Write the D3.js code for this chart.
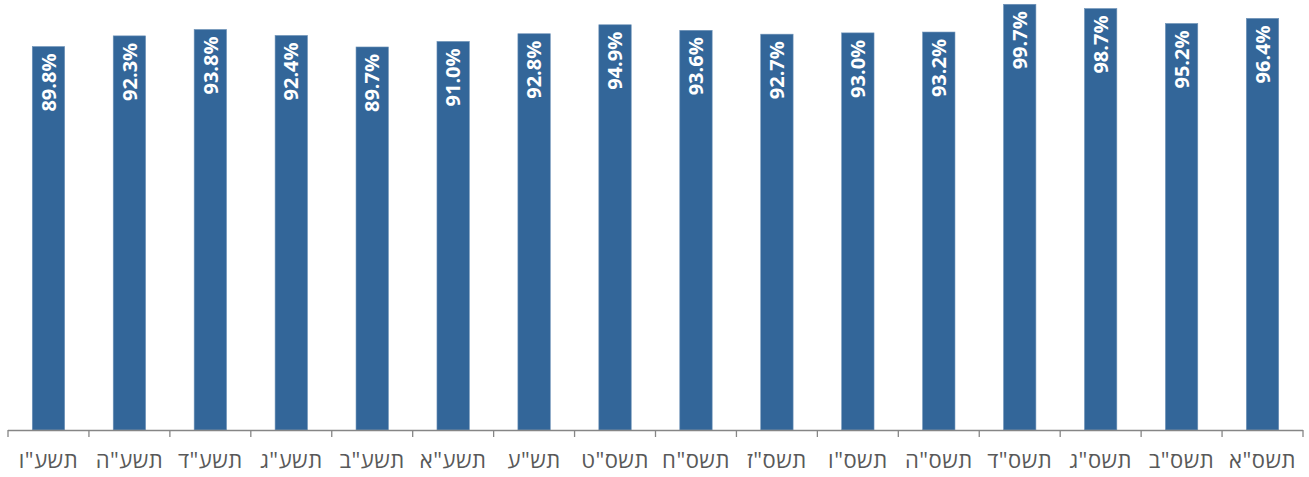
<!DOCTYPE html>
<html>
<head>
<meta charset="utf-8">
<script src="https://cdn.jsdelivr.net/npm/d3@7"></script>
<style>
	body { margin: 0; background: #fff; }
	svg { display: block; }
</style>
</head>
<body>
<div id="chart"></div>
<script>
// years shown left to right
let years = ['תשע"ו', 'תשע"ה', 'תשע"ד', 'תשע"ג', 'תשע"ב', 'תשע"א', 'תש"ע', 'תשס"ט',
	'תשס"ח', 'תשס"ז', 'תשס"ו', 'תשס"ה', 'תשס"ד', 'תשס"ג', 'תשס"ב', 'תשס"א'];
let rates = [89.8, 92.3, 93.8, 92.4, 89.7, 91.0, 92.8, 94.9,
	93.6, 92.7, 93.0, 93.2, 99.7, 98.7, 95.2, 96.4];

let width = 1309, height = 477;

let svg = d3.select("#chart").append("svg")
	.attr("width", width)
	.attr("height", height);

let x = d3.scaleBand()
	.domain(years)
	.range([8, 1303])
	.paddingInner(0.6)
	.paddingOuter(0.3);

let y = d3.scaleLinear()
	.domain([0, 100])
	.range([430, 3]);

let data = years.map((d, i) => ({year: d, value: rates[i]}));

svg.selectAll("rect.bar")
	.data(data)
	.join("rect")
	.classed("bar", true)
	.attr("x", d => x(d.year))
	.attr("y", d => y(d.value))
	.attr("width", x.bandwidth())
	.attr("height", d => y(0) - y(d.value))
	.attr("fill", "#336699")
	.attr("stroke", "#6f93b8")
	.attr("stroke-width", 0.6);

// labels inside the bar top, rotated
svg.selectAll("text.val")
	.data(data)
	.join("text")
	.classed("val", true)
	.attr("transform", d => "translate(" + (x(d.year) + x.bandwidth() / 2) + "," + (y(d.value) + 7) + ") rotate(-90)")
	.attr("text-anchor", "end")
	.attr("dy", "0.36em")
	.attr("fill", "#fff")
	.style("font-family", "'Open Sans', 'Noto Sans', sans-serif")
	.style("font-weight", "bold")
	.style("font-size", "20px")
	.text(d => d.value.toFixed(1) + "%");

// axis line + boundary ticks
let axisG = svg.append("g");
axisG.append("line")
	.attr("x1", 8).attr("x2", 1303)
	.attr("y1", 430.5).attr("y2", 430.5)
	.attr("stroke", "#868686")
	.attr("stroke-width", 1.3);

let step = x.step();
let start = x.range()[0];
let bounds = d3.range(years.length + 1).map(i => start + i * step);
axisG.selectAll("line.tick")
	.data(bounds)
	.join("line")
	.classed("tick", true)
	.attr("x1", d => d).attr("x2", d => d)
	.attr("y1", 430).attr("y2", 437)
	.attr("stroke", "#868686")
	.attr("stroke-width", 1.3);

svg.append("g")
	.selectAll("text.cat")
	.data(years)
	.join("text")
	.classed("cat", true)
	.attr("x", d => x(d) + x.bandwidth() / 2)
	.attr("y", 468)
	.attr("text-anchor", "middle")
	.attr("fill", "#595959")
	.style("font-family", "'Open Sans', 'Noto Sans', sans-serif")
	.style("font-size", "22px")
	.style("letter-spacing", "0.5px")
	.text(d => d);
</script>
</body>
</html>
